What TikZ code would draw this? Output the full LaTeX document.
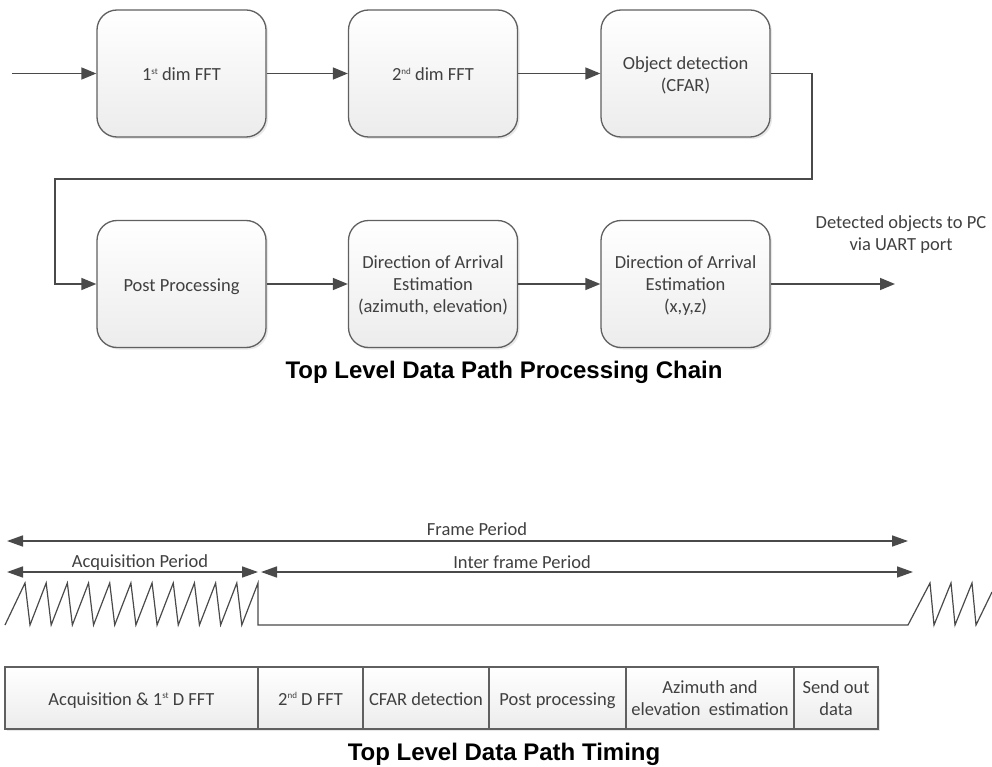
\documentclass[tikz,border=0pt]{standalone}
\usepackage{fontspec}
\setmainfont{Carlito}
\newfontfamily\headfont{Liberation Sans}
\usetikzlibrary{arrows.meta,shadows}

\definecolor{ink}{HTML}{404040}
\definecolor{wire}{HTML}{4A4A4A}
\definecolor{frame}{HTML}{606060}
\definecolor{shadebot}{HTML}{ECECEC}

\newcommand\stagefont{\fontsize{18.5}{22}\selectfont}
\newcommand\headsize{\headfont\bfseries\fontsize{24}{28}\selectfont}
% small raised ordinal suffix that does not change the line height
\newcommand\ordsup[1]{\smash{\raisebox{0.75ex}{\fontsize{9}{9}\selectfont #1}}}
% struts that keep every text block at the same optical height
\newcommand\topstrut{\rule{0pt}{21.4pt}}
\newcommand\firstline{\rule{0pt}{20pt}}

\begin{document}
\begin{tikzpicture}[x=1pt,y=-1pt,
  stage/.style={draw=frame, line width=1.3pt, rounded corners=20pt,
    minimum width=169pt, minimum height=127pt, inner sep=0pt,
    top color=white, bottom color=shadebot,
    drop shadow={shadow xshift=2pt, shadow yshift=-2pt, opacity=0.18},
    align=center, text=ink, font=\stagefont,
    execute at begin node=\topstrut, execute at end node=\strut},
  flow/.style={draw=wire, line width=1.6pt, line join=miter,
    -{Triangle[length=15pt,width=12pt]}},
  span/.style={draw=wire, line width=1.6pt,
    {Triangle[length=16pt,width=11pt]}-{Triangle[length=16pt,width=11pt]}},
  lbl/.style={text=ink, font=\stagefont, inner sep=0pt, align=center},
  cell/.style={draw=frame, line width=1.2pt, minimum height=62pt,
    inner sep=0pt, align=center, text=ink, font=\stagefont,
    execute at begin node=\topstrut, execute at end node=\strut},
  heading/.style={font=\headsize, text=black, inner sep=0pt},
]
\useasboundingbox (0,0) rectangle (992,767);
\fill[white] (0,0) rectangle (992,767);

% ---------- processing chain ----------
\node[stage] (fft1) at (181.5,73.5) {1\ordsup{st} dim FFT};
\node[stage] (fft2) at (433,73.5)   {2\ordsup{nd} dim FFT};
\node[stage] (cfar) at (685.5,73.5) {\firstline Object detection\\(CFAR)};
\node[stage] (post) at (181.5,284)  {Post Processing};
\node[stage] (doa1) at (433,284)    {\firstline Direction of Arrival\\Estimation\\(azimuth, elevation)};
\node[stage] (doa2) at (685.5,284)  {\firstline Direction of Arrival\\Estimation\\(x,y,z)};

\coordinate (src)   at (12,73.5);
\coordinate (turnA) at (812,179);
\coordinate (turnB) at (55,179);
\coordinate (sink)  at (895,284);

\draw[flow] (src) -- (fft1);
\draw[flow] (fft1) -- (fft2);
\draw[flow] (fft2) -- (cfar);
\draw[flow] (cfar.east) -| (turnA) -- (turnB) |- (post.west);
\draw[flow] (post) -- (doa1);
\draw[flow] (doa1) -- (doa2);
\draw[flow] (doa2) -- (sink);

\node[lbl] (uart) at (901,235) {Detected objects to PC\\via UART port};

\node[heading, anchor=base] (chaintitle) at (504,378) {Top Level Data Path Processing Chain};

% ---------- timing ----------
\coordinate (fL) at (7,541);   \coordinate (fR) at (908,541);
\coordinate (aL) at (7,572);   \coordinate (aR) at (258,572);
\coordinate (iL) at (261,572); \coordinate (iR) at (913,572);

\draw[span] (fL) -- (fR);
\draw[span] (aL) -- (aR);
\draw[span] (iL) -- (iR);

\node[lbl, anchor=base] (framelbl) at (477,535) {Frame Period};
\node[lbl, anchor=base] (acqlbl)   at (140,567) {Acquisition Period};
\node[lbl, anchor=base] (interlbl) at (522,568) {Inter frame Period};

% chirp ramps, idle gap, next frame
\draw[wire, line width=1.2pt, line join=miter]
  (5,625) foreach \k in {0,...,10} { -- ({25+21.18*\k},583) -- ({30+21.18*\k},625) }
  -- (258,583) -- (258,625) -- (908,625)
  -- (930,583) -- (934,625) -- (951,583) -- (955,625) -- (972,583) -- (976,625) -- (992,592);

% ---------- timing table ----------
\path[top color=white, bottom color=shadebot,
  drop shadow={shadow xshift=2pt, shadow yshift=-2pt, opacity=0.18}]
  (5,667) rectangle (878,729);
\node[cell, minimum width=253pt] (c1) at (131.5,698) {Acquisition \& 1\ordsup{st} D FFT};
\node[cell, minimum width=105pt] (c2) at (310.5,698) {2\ordsup{nd} D FFT};
\node[cell, minimum width=126pt] (c3) at (426,698)   {CFAR detection};
\node[cell, minimum width=137pt] (c4) at (557.5,698) {Post processing};
\node[cell, minimum width=168pt] (c5) at (710,698)   {\firstline Azimuth and\\elevation\ \ estimation};
\node[cell, minimum width=84pt]  (c6) at (836,698)   {\firstline Send out\\data};

\node[heading, anchor=base] (timetitle) at (504,760) {Top Level Data Path Timing};
\end{tikzpicture}
\end{document}
